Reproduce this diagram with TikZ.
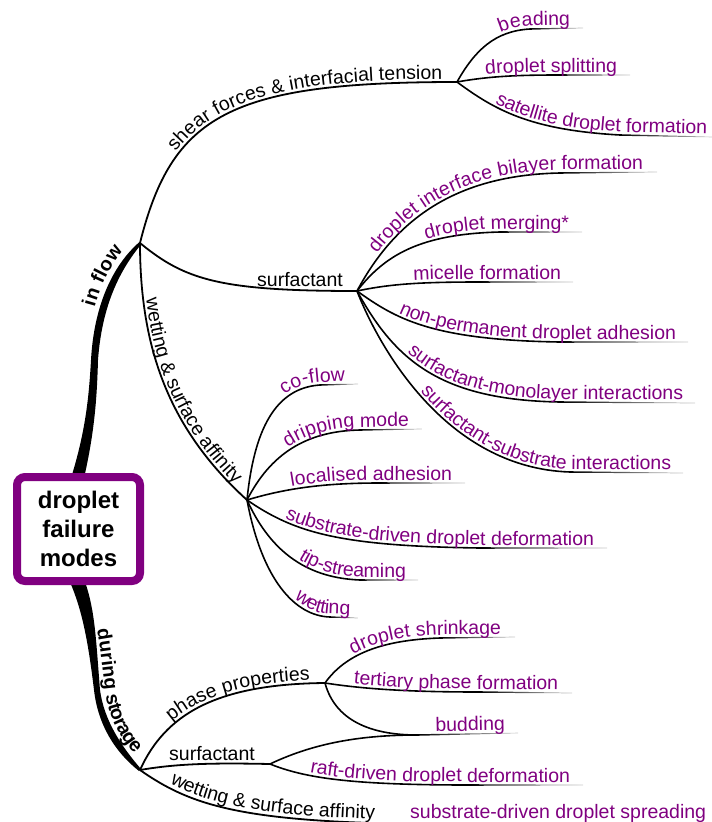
\documentclass[tikz,border=0pt]{standalone}
\usepackage{fontspec}
\setmainfont{Liberation Sans}
\usetikzlibrary{decorations.text,calc}
\definecolor{pp}{RGB}{128,0,128}
\newcommand\leaffont{\fontsize{19.5}{22}\selectfont}
\tikzset{
  branch/.style={line width=1.8pt},
  leafline/.style={line width=1.6pt},
  lbl/.style={font=\leaffont, inner sep=0pt},
  talx/.style n args={4}{postaction={decorate,decoration={text along path,text format delimiters={|}{|},text={|#1|#2},text align={#3},raise=#4}}},
  tal/.style n args={3}{talx={\leaffont\color{#1}}{#2}{right,right indent=#3}{3pt}},
}
% hub, c1, c2, junction, end, text, indent
\newcommand\myleaf[7]{%
  \draw[leafline] (#1) .. controls #2 and #3 .. #4;
  \path #4 coordinate (lj) #5 coordinate (le);
  \shade[left color=black,right color=black!20] ($(lj)+(0,-0.8)$) -- ($(le)+(0,-0.3)$) -- ($(le)+(0,0.3)$) -- ($(lj)+(0,0.8)$) -- cycle;
  \path[tal={pp}{#6}{#7}] (#1) .. controls #2 and #3 .. #4 -- #5;
}
\begin{document}
\begin{tikzpicture}[x=1pt,y=-1pt]
\path[use as bounding box] (0,0) rectangle (712,822);
\clip (0,0) rectangle (712,822);
\coordinate (h1) at (140,243);
\coordinate (hs) at (457,82);
\coordinate (hsu) at (357,291);
\coordinate (hw) at (247,500);
\coordinate (h2) at (140,770);
\coordinate (hp) at (325,683);
\coordinate (hs2) at (270,764);
\coordinate (bj) at (417,735);
\coordinate (rt) at (77,476);
\coordinate (rb) at (77,583);

% thick main branches
\fill (71,478) .. controls (86,430) and (89,395) .. (91,360) .. controls (94,305) and (113,265) .. (139.5,242) -- (141,244.5) .. controls (120,270) and (102,305) .. (98,360) .. controls (97,395) and (95,430) .. (84,478) -- cycle;
\path[talx={\leaffont\bfseries}{in flow}{right,right indent=16pt}{7pt}] (rt) .. controls (90,430) and (94,395) .. (94.5,360) .. controls (96,302) and (116,265) .. (h1);
\fill (70,582) .. controls (82,610) and (88,640) .. (94,690) .. controls (98,725) and (115,752) .. (139,771) -- (141,769) .. controls (121,746) and (104,720) .. (100,690) .. controls (96,640) and (95,610) .. (85,582) -- cycle;
\path[talx={\leaffont\bfseries}{during storage}{right,right indent=16pt}{8pt}] (rb) .. controls (88,615) and (92,645) .. (97,690) .. controls (101,725) and (118,752) .. (h2);

% in flow branches
\draw[branch, tal={black}{shear forces {\&} interfacial tension}{15pt}] (h1) .. controls (172,115) and (230,82) .. (hs);
\draw[branch] (h1) .. controls (185,280) and (220,291) .. (hsu);
\node[lbl, anchor=base] (ls1) at (300,286) {surfactant};
\draw[branch, tal={black}{wetting {\&} surface affinity}{20pt}] (h1) .. controls (140,350) and (170,430) .. (hw);

% shear leaves
\myleaf{hs}{(475,50)}{(495,31)}{(530,29)}{(583,28)}{beading}{13pt}
\myleaf{hs}{(490,76)}{(520,75)}{(560,75)}{(630,75)}{droplet splitting}{13pt}
\myleaf{hs}{(495,110)}{(530,130)}{(620,135)}{(712,137)}{satellite droplet formation}{5pt}

% surfactant leaves
\myleaf{hsu}{(395,220)}{(455,175)}{(560,173)}{(657,172)}{droplet interface bilayer formation}{14pt}
\myleaf{hsu}{(385,255)}{(420,234)}{(500,232)}{(582,232)}{droplet merging*}{13pt}
\myleaf{hsu}{(390,284)}{(420,282)}{(480,282)}{(573,282)}{micelle formation}{12pt}
\myleaf{hsu}{(395,318)}{(430,340)}{(560,342)}{(688,342)}{non-permanent droplet adhesion}{12pt}
\myleaf{hsu}{(395,360)}{(440,400)}{(560,402)}{(695,403)}{surfactant-monolayer interactions}{12pt}
\myleaf{hsu}{(378,345)}{(445,468)}{(570,472)}{(683,473)}{surfactant-substrate interactions}{12pt}

% wetting leaves
\myleaf{hw}{(254,430)}{(275,388)}{(320,385)}{(358,384)}{co-flow}{13pt}
\myleaf{hw}{(270,455)}{(305,431)}{(360,430)}{(422,429)}{dripping mode}{13pt}
\myleaf{hw}{(290,487)}{(330,483)}{(380,483)}{(465,483)}{localised adhesion}{13pt}
\myleaf{hw}{(295,533)}{(340,546)}{(480,548)}{(607,548)}{substrate-driven droplet deformation}{13pt}
\myleaf{hw}{(272,555)}{(310,578)}{(360,580)}{(418,580)}{tip-streaming}{12pt}
\myleaf{hw}{(262,580)}{(295,616)}{(330,617)}{(358,618)}{wetting}{8pt}

% storage branches
\draw[branch, tal={black}{phase properties}{15pt}] (h2) .. controls (165,715) and (215,684) .. (hp);
\draw[branch] (h2) .. controls (180,763) and (220,763) .. (hs2);
\node[lbl, anchor=base] (ls2) at (212,760) {surfactant};
\draw[branch, talx={\leaffont}{wetting {\&} surface affinity}{left,left indent=33pt}{4pt}] (h2) .. controls (190,805) and (240,822) .. (420,824);
\draw[leafline] (hs2) .. controls (310,745) and (355,735) .. (bj);

\myleaf{hp}{(345,655)}{(380,640)}{(440,638)}{(515,637)}{droplet shrinkage}{14pt}
\myleaf{hp}{(370,690)}{(420,692)}{(480,692)}{(572,693)}{tertiary phase formation}{14pt}
\myleaf{hp}{(335,720)}{(370,735)}{(bj)}{(518,733)}{budding}{13pt}
\myleaf{hs2}{(305,778)}{(350,785)}{(470,785)}{(583,785)}{raft-driven droplet deformation}{13pt}

\node[lbl, text=pp, anchor=base west] (sp) at (410,818) {substrate-driven droplet spreading};

% root
\node[draw=pp, line width=8pt, rounded corners=8pt, fill=white, minimum width=123pt, minimum height=104pt, align=center, font=\fontsize{24}{29}\selectfont\bfseries] (root) at (78.5,529) {droplet\\failure\\modes};
\end{tikzpicture}
\end{document}
